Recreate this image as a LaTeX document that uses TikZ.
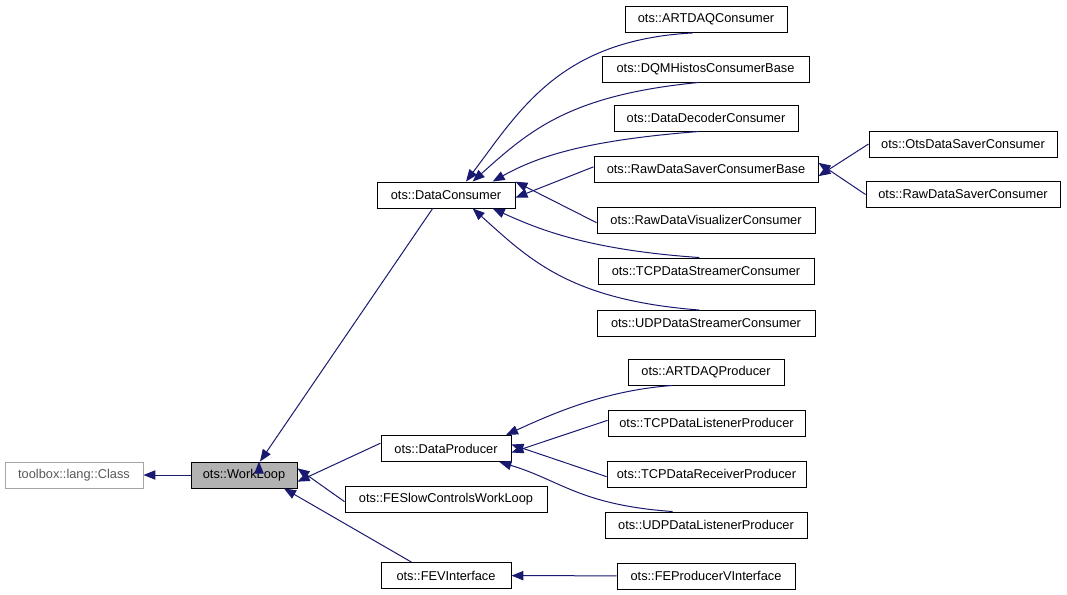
\documentclass[tikz,border=0pt]{standalone}
\usepackage{fontspec}
\setmainfont{Liberation Sans}
\usetikzlibrary{arrows.meta}
\begin{document}
\begin{tikzpicture}[x=0.75pt,y=-0.75pt,
 b/.style={draw=black,fill=white,minimum height=19.5pt,inner sep=0pt,font=\fontsize{9.6pt}{11pt}\selectfont,line width=0.7pt},
 e/.style={draw={rgb,255:red,25;green,25;blue,112},line width=0.75pt,{Triangle[length=9pt,width=7pt,fill={rgb,255:red,25;green,25;blue,112}]}-}]
\useasboundingbox (0,0) rectangle (1067,595);
\def\bx#1#2#3#4#5#6{\node[b,minimum width=(#4-#2)*0.75pt] (#1) at ({(#2+#4)/2},{(#3+#5)/2}) {#6};}
\node[b,draw=gray!70,text=gray!70!black,minimum width=103.5pt] (cls) at (74,475) {toolbox::lang::Class};
\node[b,fill=gray!60,minimum width=79.5pt] (wl) at (244,475) {ots::WorkLoop};
\bx{dc}{377}{182}{515}{208}{ots::DataConsumer}
\bx{dp}{381}{436}{511}{461}{ots::DataProducer}
\bx{fes}{345}{486}{547}{512}{ots::FESlowControlsWorkLoop}
\bx{fev}{381}{563}{511}{588}{ots::FEVInterface}
\bx{art}{625}{7}{787}{32}{ots::ARTDAQConsumer}
\bx{dqm}{602}{56}{809}{82}{ots::DQMHistosConsumerBase}
\bx{dd}{614}{105}{798}{131}{ots::DataDecoderConsumer}
\bx{rsb}{594}{157}{818}{182}{ots::RawDataSaverConsumerBase}
\bx{rv}{597}{207}{815}{233}{ots::RawDataVisualizerConsumer}
\bx{tcs}{598}{258}{814}{284}{ots::TCPDataStreamerConsumer}
\bx{ucs}{597}{311}{815}{336}{ots::UDPDataStreamerConsumer}
\bx{ods}{869}{131}{1057}{157}{ots::OtsDataSaverConsumer}
\bx{rs}{866}{182}{1060}{207}{ots::RawDataSaverConsumer}
\bx{ap}{628}{359}{784}{385}{ots::ARTDAQProducer}
\bx{tlp}{608}{410}{805}{436}{ots::TCPDataListenerProducer}
\bx{trp}{607}{461}{806}{487}{ots::TCPDataReceiverProducer}
\bx{ulp}{605}{512}{807}{538}{ots::UDPDataListenerProducer}
\bx{fep}{617}{563}{795}{589}{ots::FEProducerVInterface}
\draw[e] (cls) -- (wl);
\draw[e] (wl.north) ++(15,0) coordinate (w1);
\draw[e] ([xshift=12]wl.north) -- ([xshift=-10]dc.south);
\draw[e] ([yshift=-5]wl.east) -- ([yshift=4]dp.west);
\draw[e] ([yshift=5]wl.east) -- ([yshift=-2]fes.west);
\draw[e] ([xshift=30]wl.south) -- ([xshift=-26]fev.north);
\draw[e] (fev) -- (fep);
\draw[e] ([xshift=15]dc.north) .. controls (520,110) and (560,40) .. ([xshift=-10]art.south);
\draw[e] ([xshift=20]dc.north) .. controls (530,130) and (570,95) .. ([xshift=-5]dqm.south);
\draw[e] ([xshift=35]dc.north) .. controls (540,155) and (590,140) .. ([xshift=-5]dd.south);
\draw[e] ([yshift=-2]dc.east) -- ([yshift=2]rsb.west);
\draw[e] ([yshift=10]dc.east) -- ([yshift=-2]rv.west);
\draw[e] ([xshift=35]dc.south) .. controls (540,230) and (590,250) .. ([xshift=-5]tcs.north);
\draw[e] ([xshift=20]dc.south) .. controls (530,260) and (570,300) .. ([xshift=-5]ucs.north);
\draw[e] ([yshift=-5]rsb.east) -- (ods.west);
\draw[e] ([yshift=5]rsb.east) -- (rs.west);
\draw[e] ([xshift=45]dp.north) .. controls (560,410) and (610,390) .. ([xshift=-25]ap.south);
\draw[e] ([yshift=-3]dp.east) -- ([yshift=2]tlp.west);
\draw[e] ([yshift=3]dp.east) -- ([yshift=-2]trp.west);
\draw[e] ([xshift=40]dp.south) .. controls (560,480) and (580,505) .. ([xshift=-25]ulp.north);
\end{tikzpicture}
\end{document}
